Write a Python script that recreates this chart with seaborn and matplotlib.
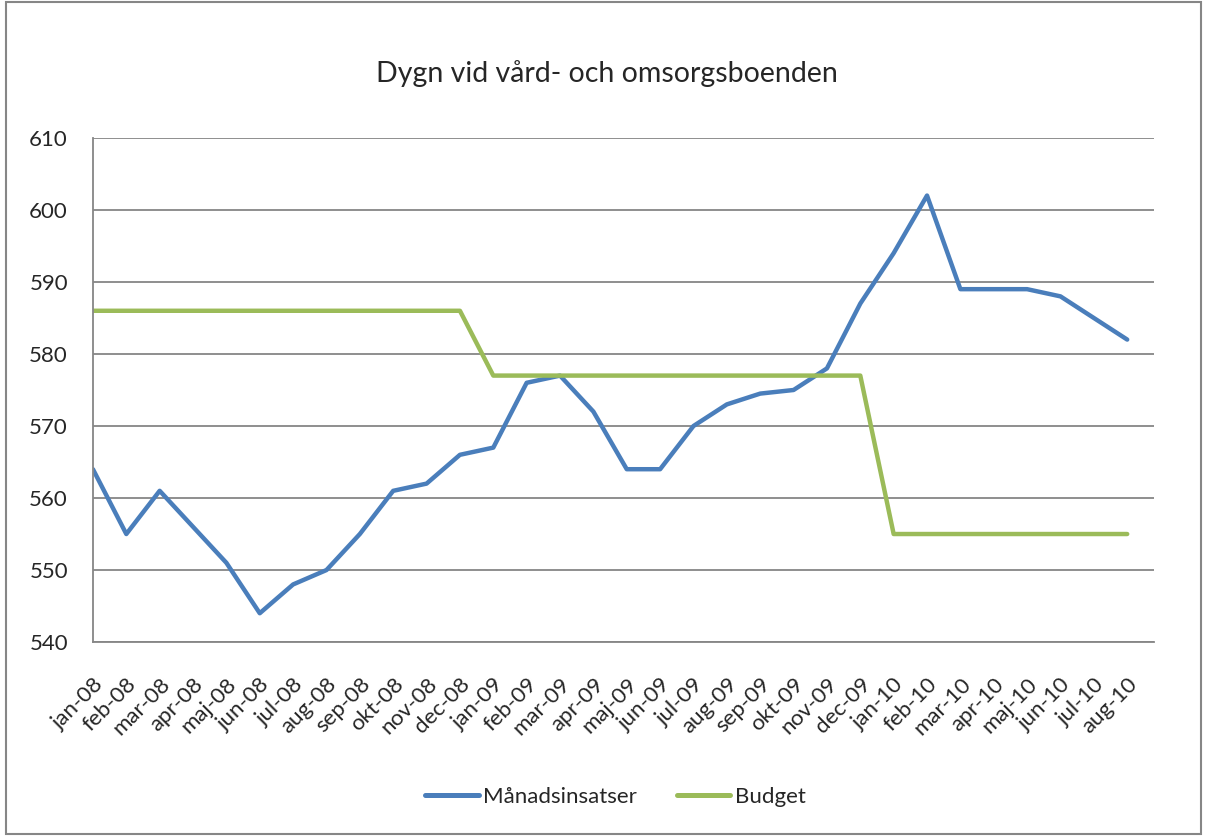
import numpy as np
import pandas as pd
import matplotlib
matplotlib.use("Agg")
import matplotlib.pyplot as plt
import seaborn as sns
from matplotlib.lines import Line2D

months = ["jan-08", "feb-08", "mar-08", "apr-08", "maj-08", "jun-08", "jul-08", "aug-08",
          "sep-08", "okt-08", "nov-08", "dec-08", "jan-09", "feb-09", "mar-09", "apr-09",
          "maj-09", "jun-09", "jul-09", "aug-09", "sep-09", "okt-09", "nov-09", "dec-09",
          "jan-10", "feb-10", "mar-10", "apr-10", "maj-10", "jun-10", "jul-10", "aug-10"]
manadsinsatser = [564, 555, 561, 556, 551, 544, 548, 550, 555, 561, 562, 566,
                  567, 576, 577, 572, 564, 564, 570, 573, 574.5, 575, 578, 587,
                  594, 602, 589, 589, 589, 588, 585, 582]
budget = [586] * 12 + [577] * 12 + [555] * 8

sns.set_style("white")
plt.rcParams["font.family"] = ["Lato", "DejaVu Sans"]

df = pd.DataFrame({
    "idx": list(range(len(months))) * 2,
    "value": manadsinsatser + budget,
    "serie": ["Månadsinsatser"] * len(months) + ["Budget"] * len(months),
})

fig = plt.figure(figsize=(12.07, 8.36), dpi=100)
ax = fig.add_axes([0.077, 0.232, 0.879, 0.603])
sns.lineplot(data=df, x="idx", y="value", hue="serie",
             palette={"Månadsinsatser": "#4A7EBB", "Budget": "#9BBB59"},
             linewidth=3.2, ax=ax, legend=False)

grid_c = "#868686"
ax.set_xlim(0, 31.8)
ax.set_ylim(540, 610)
ax.set_yticks(range(540, 611, 10))
ax.yaxis.grid(True, color=grid_c, linewidth=1.3)
ax.set_axisbelow(True)
ax.set_xticks(range(len(months)))
ax.set_xticklabels(months, rotation=45, ha="right", rotation_mode="anchor", fontsize=16)
ax.tick_params(axis="y", labelsize=16, length=8, width=1.3, color=grid_c, direction="out", pad=10)
ax.tick_params(axis="x", length=8, width=1.3, color=grid_c, direction="out", pad=15)
ax.set_xlabel("")
ax.set_ylabel("")
for s in ["top", "right"]:
    ax.spines[s].set_visible(False)
for s in ["left", "bottom"]:
    ax.spines[s].set_color(grid_c)
    ax.spines[s].set_linewidth(1.3)

fig.text(0.503, 0.912, "Dygn vid vård- och omsorgsboenden", ha="center", va="center", fontsize=20.5)

handles = [Line2D([], [], color="#4A7EBB", lw=3.6, solid_capstyle="round"),
           Line2D([], [], color="#9BBB59", lw=3.6, solid_capstyle="round")]
fig.legend(handles, ["Månadsinsatser", "Budget"], loc="center", bbox_to_anchor=(0.51, 0.047),
           ncol=2, frameon=False, fontsize=16, handlelength=2.4, handletextpad=0.2, columnspacing=1.8)

border = plt.Rectangle((0.005, 0.002), 0.99, 0.996, transform=fig.transFigure,
                       fill=False, edgecolor=grid_c, linewidth=1.5)
fig.patches.append(border)

fig.savefig("out.png", dpi=100)
